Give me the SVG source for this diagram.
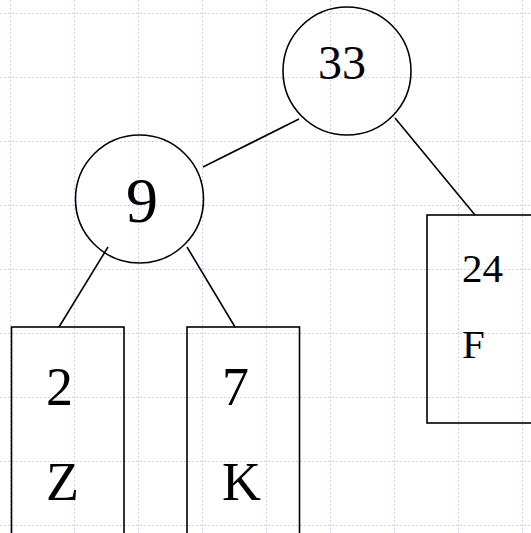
<svg xmlns="http://www.w3.org/2000/svg" width="531" height="533" viewBox="0 0 531 533">
  <defs>
    <style>
      .grid line { stroke: #c4d2f8; stroke-width: 1; stroke-dasharray: 2 2; }
      .node circle, .node rect { fill: none; stroke: #000; stroke-width: 1.6; }
      .edges line { stroke: #000; stroke-width: 1.6; }
      text { font-family: "Liberation Serif", "Times New Roman", serif; fill: #000; }
    </style>
  </defs>
  <rect x="0" y="0" width="531" height="533" fill="#fff"/>

  <!-- background grid -->
  <g class="grid">
    <line x1="10.5" y1="0" x2="10.5" y2="533"/>
    <line x1="74.5" y1="0" x2="74.5" y2="533"/>
    <line x1="138.5" y1="0" x2="138.5" y2="533"/>
    <line x1="202.5" y1="0" x2="202.5" y2="533"/>
    <line x1="266.5" y1="0" x2="266.5" y2="533"/>
    <line x1="330.5" y1="0" x2="330.5" y2="533"/>
    <line x1="394.5" y1="0" x2="394.5" y2="533"/>
    <line x1="458.5" y1="0" x2="458.5" y2="533"/>
    <line x1="522.5" y1="0" x2="522.5" y2="533"/>
    <line x1="0" y1="13.5" x2="531" y2="13.5"/>
    <line x1="0" y1="77.5" x2="531" y2="77.5"/>
    <line x1="0" y1="141.5" x2="531" y2="141.5"/>
    <line x1="0" y1="205.5" x2="531" y2="205.5"/>
    <line x1="0" y1="269.5" x2="531" y2="269.5"/>
    <line x1="0" y1="333.5" x2="531" y2="333.5"/>
    <line x1="0" y1="397.5" x2="531" y2="397.5"/>
    <line x1="0" y1="461.5" x2="531" y2="461.5"/>
    <line x1="0" y1="525.5" x2="531" y2="525.5"/>
  </g>

  <!-- tree edges -->
  <g class="edges">
    <line x1="203" y1="167" x2="299" y2="119"/>
    <line x1="395" y1="118" x2="475" y2="215"/>
    <line x1="108" y1="247" x2="59" y2="327"/>
    <line x1="187" y1="247" x2="235" y2="327"/>
  </g>

  <!-- internal nodes -->
  <g id="node-33" class="node">
    <circle cx="347" cy="71" r="64"/>
    <text x="342" y="79" font-size="48" text-anchor="middle">33</text>
  </g>
  <g id="node-9" class="node">
    <circle cx="139.5" cy="199" r="64"/>
    <text x="142" y="222" font-size="64" text-anchor="middle">9</text>
  </g>

  <!-- leaf entries -->
  <g id="leaf-2" class="node">
    <rect x="11.5" y="327" width="112.5" height="230"/>
    <text x="46" y="405" font-size="54">2</text>
    <text x="46" y="500" font-size="54">Z</text>
  </g>
  <g id="leaf-7" class="node">
    <rect x="187" y="327" width="112.5" height="230"/>
    <text x="222" y="405" font-size="54">7</text>
    <text x="222" y="500" font-size="54">K</text>
  </g>
  <g id="leaf-24" class="node">
    <rect x="427" y="215" width="112.5" height="208"/>
    <text x="462" y="282" font-size="41">24</text>
    <text x="462" y="358" font-size="41">F</text>
  </g>
</svg>
